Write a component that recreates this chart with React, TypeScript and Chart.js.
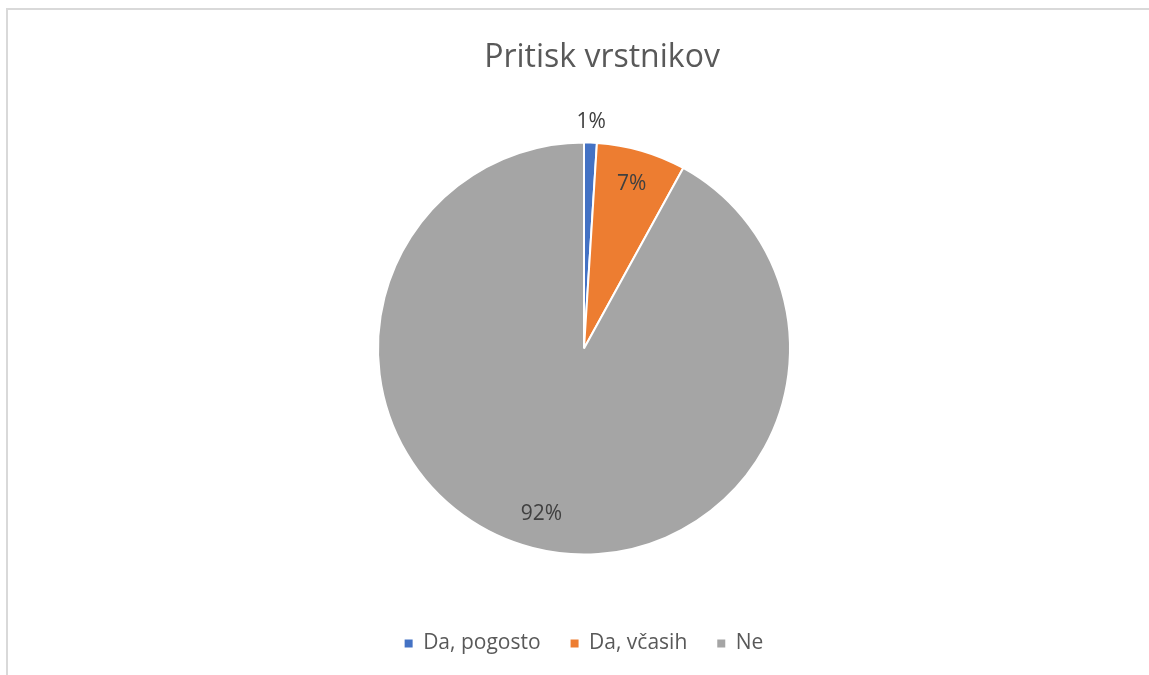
import React, { useEffect, useRef } from "react";
import { Chart, registerables } from "chart.js";

Chart.register(...registerables);

const TITLE = "Pritisk vrstnikov";
const categories = ["Da, pogosto", "Da, včasih", "Ne"];
const values = [1, 7, 92];
const colors = ["#4472C4", "#ED7D31", "#A5A5A5"];
const labelTexts = ["1%", "7%", "92%"];

const FONT = "'Open Sans', 'Liberation Sans', sans-serif";

const titlePlugin = {
  id: "customTitle",
  afterDraw(chart: any) {
    const ctx = chart.ctx;
    ctx.save();
    ctx.font = `32px ${FONT}`;
    ctx.fillStyle = "#595959";
    ctx.textAlign = "center";
    ctx.textBaseline = "middle";
    ctx.fillText(TITLE, 594, 48);
    ctx.restore();
  },
};

const dataLabelPlugin = {
  id: "dataLabels",
  afterDatasetsDraw(chart: any) {
    const ctx = chart.ctx;
    const meta = chart.getDatasetMeta(0);
    const total = values.reduce((a, b) => a + b, 0);
    ctx.save();
    ctx.font = `21px ${FONT}`;
    ctx.fillStyle = "#404040";
    ctx.textAlign = "center";
    ctx.textBaseline = "middle";
    meta.data.forEach((arc: any, i: number) => {
      const p = arc.getProps(["x", "y", "startAngle", "endAngle", "outerRadius"], true);
      const mid = (p.startAngle + p.endAngle) / 2;
      const share = values[i] / total;
      const f = share < 0.03 ? 1.1 : 0.83;
      const x = p.x + Math.cos(mid) * p.outerRadius * f;
      const y = p.y + Math.sin(mid) * p.outerRadius * f;
      ctx.fillText(labelTexts[i], x, y);
    });
    ctx.restore();
  },
};

export default function App() {
  const ref = useRef<HTMLCanvasElement | null>(null);
  useEffect(() => {
    if (!ref.current) return;
    const chart = new Chart(ref.current, {
      type: "pie",
      data: {
        labels: categories,
        datasets: [
          {
            data: values,
            backgroundColor: colors,
            borderColor: "#ffffff",
            borderWidth: 2,
          },
        ],
      },
      options: {
        animation: false,
        responsive: true,
        maintainAspectRatio: false,
        radius: 206,
        layout: { padding: { left: 11, right: 0, top: 84, bottom: 11 } },
        plugins: {
          title: { display: false },
          tooltip: { enabled: false },
          legend: {
            position: "bottom",
            labels: {
              boxWidth: 8,
              boxHeight: 8,
              padding: 30,
              color: "#595959",
              font: { family: FONT, size: 21 },
              generateLabels: (c: any) => {
                const base = (Chart as any).overrides.pie.plugins.legend.labels.generateLabels(c);
                return base.map((l: any) => ({ ...l, lineWidth: 0, strokeStyle: "rgba(0,0,0,0)" }));
              },
            },
          },
        },
      } as any,
      plugins: [titlePlugin, dataLabelPlugin],
    });
    return () => chart.destroy();
  }, []);
  return (
    <div
      style={{
        position: "absolute",
        left: 6,
        top: 8,
        width: 1141,
        height: 665,
        borderLeft: "2px solid #d9d9d9",
        borderTop: "2px solid #d9d9d9",
        background: "#ffffff",
      }}
    >
      <canvas ref={ref} style={{ width: "100%", height: "100%" }} />
    </div>
  );
}
